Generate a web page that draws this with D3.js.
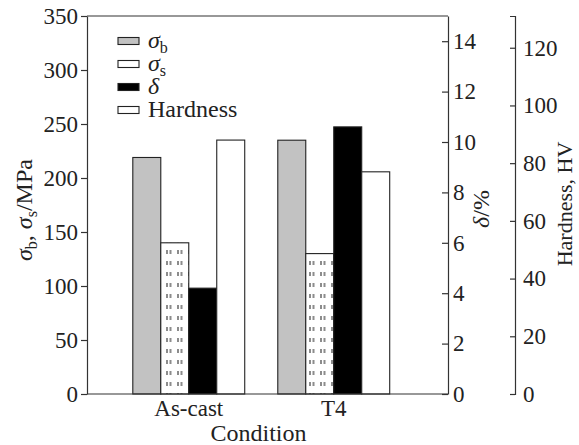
<!DOCTYPE html>
<html>
<head>
<meta charset="utf-8">
<script src="https://cdn.jsdelivr.net/npm/d3@7"></script>
<style>
  body { margin: 0; background: #fff; }
</style>
</head>
<body>
<div id="chart"></div>
<script>
const conditions = ['As-cast', 'T4'];
const seriesNames = ['sigmaB', 'sigmaS', 'delta', 'hardness'];
const sigmaB = [219, 235];     // MPa
const sigmaS = [140, 130];     // MPa
const delta = [4.2, 10.6];     // %
const hardness = [88, 77];     // HV
const stressTicks = [0, 50, 100, 150, 200, 250, 300, 350];
const deltaTicks = [0, 2, 4, 6, 8, 10, 12, 14];
const hardnessTicks = [0, 20, 40, 60, 80, 100, 120];

const FONT = 'Liberation Serif';
const margin = { top: 16, right: 131, bottom: 51, left: 87 };
const width = 579 - margin.left - margin.right;
const height = 445 - margin.top - margin.bottom;

const svg = d3.select('#chart').append('svg')
  .attr('width', 579)
  .attr('height', 445);

// dotted fill for sigma_s
const pat = svg.append('defs').append('pattern')
  .attr('id', 'dots')
  .attr('patternUnits', 'userSpaceOnUse')
  .attr('width', 11).attr('height', 11)
  .attr('x', 0).attr('y', 0);
pat.append('rect').attr('width', 11).attr('height', 11).attr('fill', '#fff');
pat.append('rect').attr('x', 2).attr('y', 3).attr('width', 2).attr('height', 4).attr('fill', '#8c8c8c');
pat.append('rect').attr('x', 5.5).attr('y', 3).attr('width', 2).attr('height', 4).attr('fill', '#8c8c8c');

const g = svg.append('g')
  .attr('transform', 'translate(' + margin.left + ',' + margin.top + ')');

const x0 = d3.scaleBand()
  .domain(conditions)
  .range([0, width])
  .paddingInner(0.228)
  .paddingOuter(0.359)
  .align(0.44);
const x1 = d3.scaleBand()
  .domain(seriesNames)
  .range([0, x0.bandwidth()]);

const yStress = d3.scaleLinear().domain([0, 350]).range([height, 0]);
const yDelta = d3.scaleLinear().domain([0, 15]).range([height, 0]);
const yHard = d3.scaleLinear().domain([0, 131]).range([height, 0]);

const series = [
  { key: 'sigmaB', values: sigmaB, y: yStress, fill: '#c2c2c2' },
  { key: 'sigmaS', values: sigmaS, y: yStress, fill: 'url(#dots)' },
  { key: 'delta', values: delta, y: yDelta, fill: '#000' },
  { key: 'hardness', values: hardness, y: yHard, fill: '#fff' }
];

const bars = [];
series.forEach(s => {
  conditions.forEach((c, i) => {
    bars.push({ cond: c, key: s.key, v: s.values[i], y: s.y, fill: s.fill });
  });
});

g.selectAll('rect.bar').data(bars)
  .enter().append('rect')
    .attr('class', 'bar')
    .attr('x', d => x0(d.cond) + x1(d.key))
    .attr('y', d => d.y(d.v))
    .attr('width', x1.bandwidth())
    .attr('height', d => height - d.y(d.v))
    .attr('fill', d => d.fill)
    .attr('stroke', '#222')
    .attr('stroke-width', 1.1);

// frame lines
g.append('line').attr('x1', 0).attr('x2', width).attr('y1', 0).attr('y2', 0)
  .attr('stroke', '#333').attr('stroke-width', 1.2);
g.append('line').attr('x1', 0).attr('x2', width).attr('y1', height).attr('y2', height)
  .attr('stroke', '#333').attr('stroke-width', 1.2);

function styleAxis(sel, size) {
  sel.attr('font-family', FONT).attr('font-size', size);
  sel.selectAll('path, line').attr('stroke', '#333').attr('stroke-width', 1.2);
  sel.selectAll('text').attr('fill', '#222');
}

const leftAxis = g.append('g')
  .call(d3.axisLeft(yStress).tickValues(stressTicks).tickSize(6).tickSizeOuter(0).tickPadding(3));
styleAxis(leftAxis, 23);

const deltaAxis = g.append('g')
  .attr('transform', 'translate(' + width + ',0)')
  .call(d3.axisRight(yDelta).tickValues(deltaTicks).tickSize(-6).tickSizeOuter(0).tickPadding(5));
styleAxis(deltaAxis, 23);

const hardAxis = g.append('g')
  .attr('transform', 'translate(' + (width + 67) + ',0)')
  .call(d3.axisRight(yHard).tickValues(hardnessTicks).tickSizeInner(-5).tickSizeOuter(-5).tickPadding(8));
styleAxis(hardAxis, 23);

function label(sel, size) {
  return sel.attr('font-family', FONT).attr('font-size', size).attr('fill', '#222');
}

// category labels
g.selectAll('text.cat').data(conditions)
  .enter().append('text')
    .attr('class', 'cat')
    .attr('x', d => x0(d) + x0.bandwidth() / 2)
    .attr('y', height + 22)
    .attr('text-anchor', 'middle')
    .call(label, 23)
    .text(d => d);

g.append('text')
  .attr('x', width / 2 - 9)
  .attr('y', height + 47)
  .attr('text-anchor', 'middle')
  .call(label, 24)
  .text('Condition');

// y axis titles
const leftTitle = svg.append('text')
  .attr('transform', 'translate(32,210) rotate(-90)')
  .attr('text-anchor', 'middle')
  .call(label, 24);
leftTitle.append('tspan').attr('font-style', 'italic').text('σ');
leftTitle.append('tspan').attr('dy', 5).attr('font-size', 16).text('b');
leftTitle.append('tspan').attr('dy', -5).text(', ');
leftTitle.append('tspan').attr('font-style', 'italic').text('σ');
leftTitle.append('tspan').attr('dy', 5).attr('font-size', 16).text('s');
leftTitle.append('tspan').attr('dy', -5).text('/MPa');

const deltaTitle = svg.append('text')
  .attr('transform', 'translate(489,209) rotate(-90)')
  .attr('text-anchor', 'middle')
  .call(label, 24);
deltaTitle.append('tspan').attr('font-style', 'italic').text('δ');
deltaTitle.append('tspan').text('/%');

svg.append('text')
  .attr('transform', 'translate(572,204) rotate(-90)')
  .attr('text-anchor', 'middle')
  .call(label, 22)
  .text('Hardness, HV');

// legend
const legendItems = [
  { key: 'sigmaB', fill: '#c2c2c2', sym: 'σ', sub: 'b' },
  { key: 'sigmaS', fill: 'url(#dots)', sym: 'σ', sub: 's' },
  { key: 'delta', fill: '#000', sym: 'δ', sub: '' },
  { key: 'hardness', fill: '#fff', sym: '', sub: '', label: 'Hardness' }
];
const legend = svg.append('g').attr('transform', 'translate(118,41)');
const li = legend.selectAll('g').data(legendItems)
  .enter().append('g')
    .attr('transform', (d, i) => 'translate(0,' + (i * 23) + ')');
li.append('rect')
  .attr('x', 0).attr('y', -3.5)
  .attr('width', 21).attr('height', 7)
  .attr('fill', d => d.fill)
  .attr('stroke', '#222')
  .attr('stroke-width', 1.1);
const lt = li.append('text')
  .attr('x', 30)
  .attr('y', 7)
  .call(label, 24);
lt.each(function(d) {
  const t = d3.select(this);
  if (d.label) {
    t.text(d.label);
  } else {
    t.append('tspan').attr('font-style', 'italic').text(d.sym);
    if (d.sub) t.append('tspan').attr('dy', 5).attr('font-size', 16).text(d.sub);
  }
});
</script>
</body>
</html>
